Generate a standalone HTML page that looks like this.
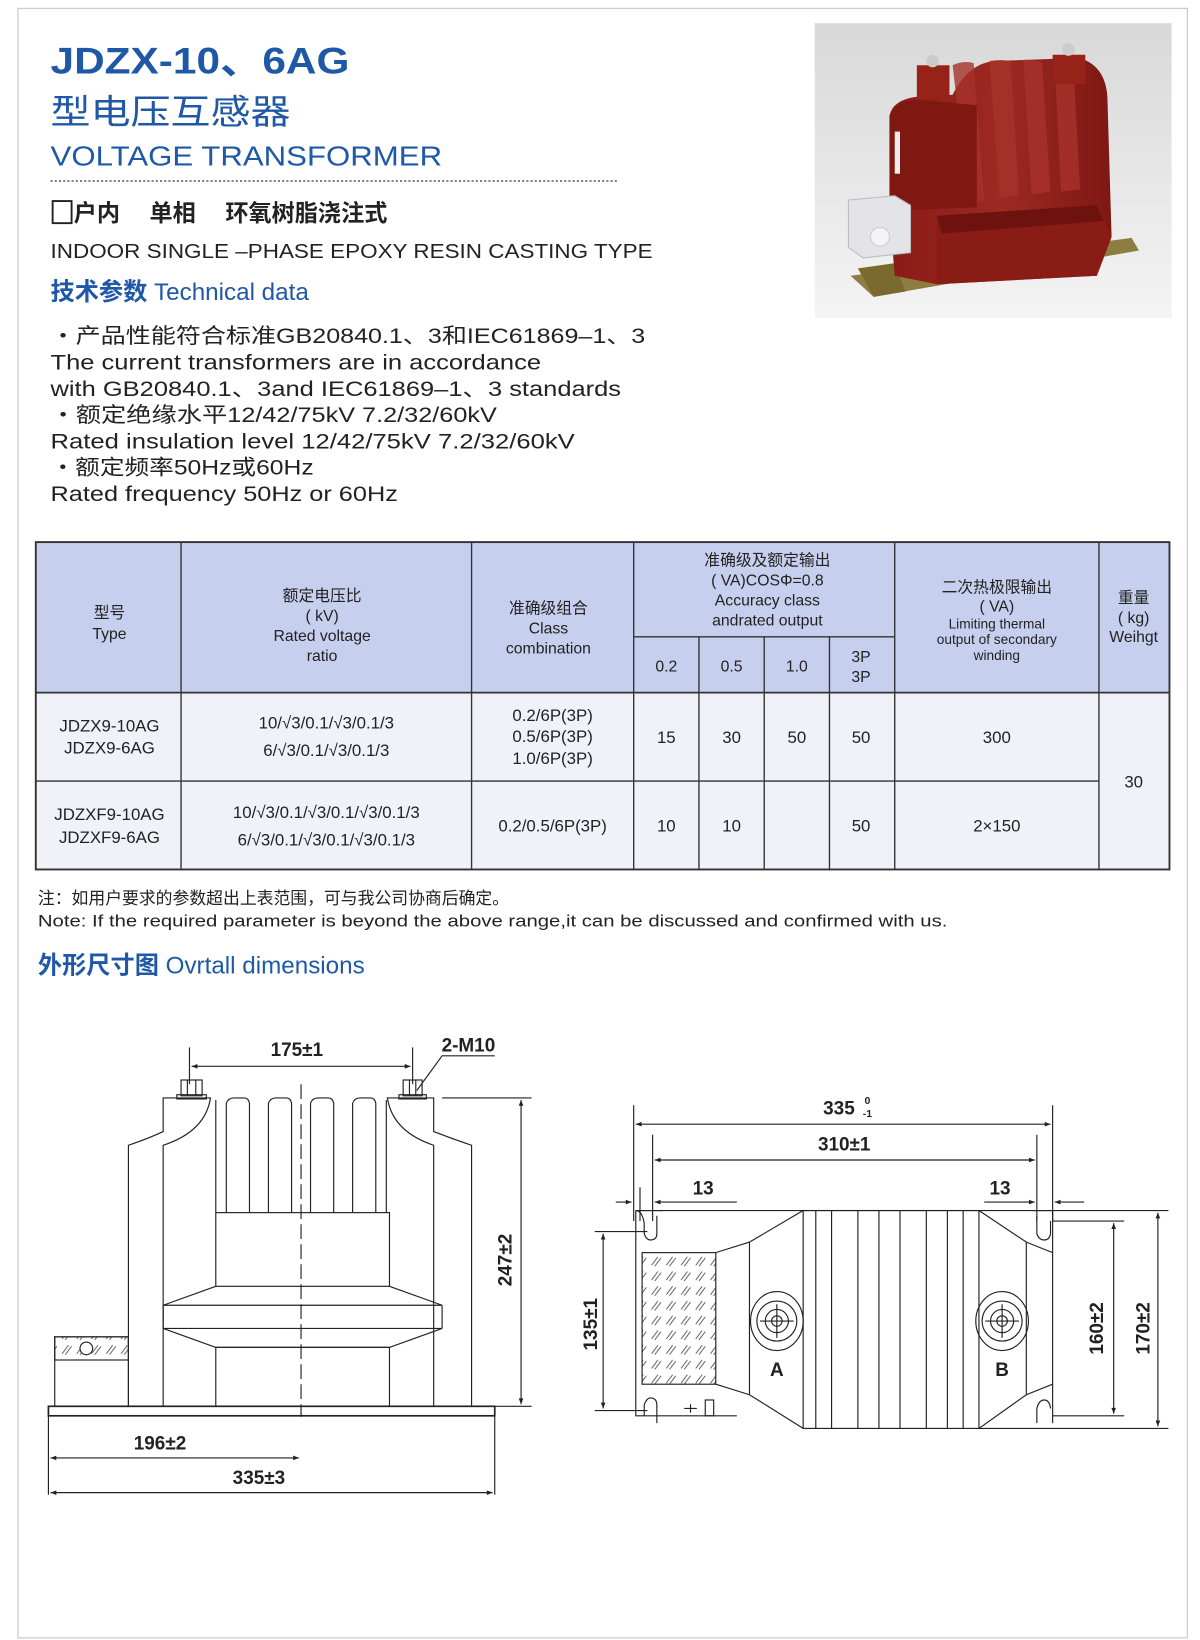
<!DOCTYPE html>
<html><head><meta charset="utf-8"><style>
html,body{margin:0;padding:0;background:#fff;width:1200px;height:1640px;overflow:hidden}
svg{display:block}
text{font-family:"Liberation Sans","Noto Sans CJK SC",sans-serif}
.b{fill:#1f58a6}
.k{fill:#222}
.ln{stroke:#222;stroke-width:1.1;fill:none}
.th{stroke:#222;stroke-width:1.6;fill:none}
</style></head><body>
<svg width="1200" height="1640" viewBox="0 0 1140 1558" xmlns="http://www.w3.org/2000/svg">
<defs>
<marker id="a" viewBox="0 0 10 10" refX="10" refY="5" markerWidth="7" markerHeight="5" orient="auto-start-reverse"><path d="M0,1 L10,5 L0,9 z" fill="#222"/></marker>
<linearGradient id="bg" x1="0" y1="0" x2="0" y2="1"><stop offset="0" stop-color="#d8d8d8"/><stop offset="1" stop-color="#f4f4f4"/></linearGradient>
<linearGradient id="red" x1="0" y1="0" x2="1" y2="0"><stop offset="0" stop-color="#8a1a16"/><stop offset="0.5" stop-color="#9c2a22"/><stop offset="1" stop-color="#7e1713"/></linearGradient>
<pattern id="hat" width="14" height="14" patternUnits="userSpaceOnUse"><path d="M3,12 L9,4 M6,13 L12,5" stroke="#444" stroke-width="0.8"/></pattern>
</defs>
<rect x="17" y="8" width="1111" height="1548" fill="none" stroke="#ccc" stroke-width="1.2"/>

<!-- Header -->
<text x="48" y="70" class="b" font-size="35" font-weight="bold" textLength="284" lengthAdjust="spacingAndGlyphs">JDZX-10、6AG</text>
<text x="48" y="118" class="b" font-size="33" textLength="228" lengthAdjust="spacingAndGlyphs">型电压互感器</text>
<text x="48" y="157" class="b" font-size="26" textLength="372" lengthAdjust="spacingAndGlyphs">VOLTAGE  TRANSFORMER</text>
<line x1="48" y1="172" x2="586" y2="172" stroke="#333" stroke-width="1.2" stroke-dasharray="2,2"/>
<rect x="50" y="191" width="18" height="21" fill="none" stroke="#222" stroke-width="1.8"/>
<text x="70" y="210" class="k" font-size="22" font-weight="bold">户内　 单相 　环氧树脂浇注式</text>
<text x="48" y="245" class="k" font-size="19" textLength="572" lengthAdjust="spacingAndGlyphs">INDOOR SINGLE –PHASE EPOXY RESIN CASTING TYPE</text>
<text x="48" y="285" class="b" font-size="23"><tspan font-weight="bold">技术参数</tspan> Technical data</text>
<g class="k" font-size="20">
<text x="48" y="326" textLength="565" lengthAdjust="spacingAndGlyphs">・产品性能符合标准GB20840.1、3和IEC61869–1、3</text>
<text x="48" y="351" textLength="466" lengthAdjust="spacingAndGlyphs">The current transformers are in accordance</text>
<text x="48" y="376" textLength="542" lengthAdjust="spacingAndGlyphs">with GB20840.1、3and IEC61869–1、3 standards</text>
<text x="48" y="401" textLength="424" lengthAdjust="spacingAndGlyphs">・额定绝缘水平12/42/75kV 7.2/32/60kV</text>
<text x="48" y="426" textLength="498" lengthAdjust="spacingAndGlyphs">Rated insulation level 12/42/75kV 7.2/32/60kV</text>
<text x="48" y="451" textLength="250" lengthAdjust="spacingAndGlyphs">・额定频率50Hz或60Hz</text>
<text x="48" y="476" textLength="330" lengthAdjust="spacingAndGlyphs">Rated frequency 50Hz or 60Hz</text>
</g>

<!-- Photo -->
<rect x="774" y="22" width="339" height="280" fill="url(#bg)"/>
<path d="M808,262 L830,282 L1082,238 L1075,226 z" fill="#8e7d40"/>
<path d="M815,255 L830,282 L860,277 L850,250 z" fill="#7a6a30"/>
<path d="M845,110 Q848,95 870,92 L905,90 Q920,60 945,58 L1025,55 Q1050,62 1052,92 L1056,225 L1042,262 L890,270 L850,262 L845,200 z" fill="url(#red)"/>
<path d="M905,62 Q915,57 925,60 L935,190 L920,194 z M940,58 Q950,56 960,58 L968,185 L950,188 z M972,57 Q982,56 990,60 L998,182 L980,185 z M1002,60 Q1012,60 1020,66 L1026,180 L1008,182 z" fill="#a8322a" opacity="0.8"/>
<path d="M928,100 L928,197 L845,200 L845,110 Q850,95 875,95 z" fill="#801812"/>
<path d="M890,205 L1042,195 L1056,225 L1042,262 L890,270 z" fill="#8a1c16"/>
<path d="M890,205 L1042,195 L1048,210 L895,222 z" fill="#6d120e"/>
<rect x="871" y="62" width="31" height="32" fill="#962218"/>
<rect x="1000" y="52" width="31" height="28" fill="#962218"/>
<circle cx="886" cy="58" r="6" fill="#ccc"/><circle cx="1015" cy="47" r="6" fill="#ccc"/>
<path d="M806,190 L850,186 L865,195 L865,240 L820,245 L806,235 z" fill="#e4e4e8" stroke="#bbb"/>
<circle cx="836" cy="225" r="9" fill="#f4f4f4" stroke="#ccc"/>
<rect x="850" y="125" width="5" height="40" fill="#eee"/>

<!-- Table -->
<rect x="34" y="515" width="1077" height="143" fill="#c7cfee"/>
<rect x="34" y="658" width="1077" height="168" fill="#f1f2f9"/>
<g stroke="#333" stroke-width="1.3" fill="none">
<rect x="34" y="515" width="1077" height="311" stroke-width="1.8"/>
<line x1="34" y1="658" x2="1111" y2="658" stroke-width="1.6"/>
<line x1="34" y1="742" x2="1044" y2="742"/>
<line x1="602" y1="605" x2="850" y2="605"/>
<line x1="172" y1="515" x2="172" y2="826"/>
<line x1="448" y1="515" x2="448" y2="826"/>
<line x1="602" y1="515" x2="602" y2="826"/>
<line x1="664" y1="605" x2="664" y2="826"/>
<line x1="726" y1="605" x2="726" y2="826"/>
<line x1="788" y1="605" x2="788" y2="826"/>
<line x1="850" y1="515" x2="850" y2="826"/>
<line x1="1044" y1="515" x2="1044" y2="826"/>
</g>
<g class="k" font-size="15" text-anchor="middle">
<text x="104" y="587">型号</text><text x="104" y="607">Type</text>
<text x="306" y="571">额定电压比</text><text x="306" y="590">( kV)</text><text x="306" y="609">Rated voltage</text><text x="306" y="628">ratio</text>
<text x="521" y="583">准确级组合</text><text x="521" y="602">Class</text><text x="521" y="621">combination</text>
<text x="729" y="537">准确级及额定输出</text><text x="729" y="556">( VA)COSΦ=0.8</text><text x="729" y="575">Accuracy class</text><text x="729" y="594">andrated output</text>
<text x="633" y="638">0.2</text><text x="695" y="638">0.5</text><text x="757" y="638">1.0</text><text x="818" y="629">3P</text><text x="818" y="648">3P</text>
<text x="947" y="563">二次热极限输出</text><text x="947" y="581">( VA)</text>
<text x="947" y="597" font-size="13">Limiting thermal</text><text x="947" y="612" font-size="13">output of secondary</text><text x="947" y="627" font-size="13">winding</text>
<text x="1077" y="573">重量</text><text x="1077" y="592">( kg)</text><text x="1077" y="610">Weihgt</text>
<g font-size="16">
<text x="104" y="695">JDZX9-10AG</text><text x="104" y="716">JDZX9-6AG</text>
<text x="310" y="692">10/√3/0.1/√3/0.1/3</text><text x="310" y="718">6/√3/0.1/√3/0.1/3</text>
<text x="525" y="685">0.2/6P(3P)</text><text x="525" y="705">0.5/6P(3P)</text><text x="525" y="726">1.0/6P(3P)</text>
<text x="633" y="706">15</text><text x="695" y="706">30</text><text x="757" y="706">50</text><text x="818" y="706">50</text><text x="947" y="706">300</text>
<text x="1077" y="748">30</text>
<text x="104" y="779">JDZXF9-10AG</text><text x="104" y="801">JDZXF9-6AG</text>
<text x="310" y="777">10/√3/0.1/√3/0.1/√3/0.1/3</text><text x="310" y="803">6/√3/0.1/√3/0.1/√3/0.1/3</text>
<text x="525" y="790">0.2/0.5/6P(3P)</text>
<text x="633" y="790">10</text><text x="695" y="790">10</text><text x="818" y="790">50</text><text x="947" y="790">2×150</text>
</g></g>

<text x="36" y="859" class="k" font-size="16">注：如用户要求的参数超出上表范围，可与我公司协商后确定。</text>
<text x="36" y="880" class="k" font-size="16" textLength="864" lengthAdjust="spacingAndGlyphs">Note: If the required parameter is beyond the above range,it can be discussed and confirmed with us.</text>
<text x="36" y="925" class="b" font-size="23"><tspan font-weight="bold">外形尺寸图</tspan> Ovrtall dimensions</text>

<!-- Left drawing -->
<g class="ln">
<rect x="46" y="1336" width="424" height="9" class="th"/>
<path d="M122,1336 V1088 Q140,1082 155,1075 V1043 H200 Q195,1075 155,1088 V1336"/>
<path d="M448,1336 V1088 Q430,1082 412,1075 V1043 H368 Q373,1075 412,1088 V1336"/>
<path d="M215,1152 V1048 Q217,1043 222,1043 H232 Q236,1043 237,1048 V1152 M255,1152 V1048 Q257,1043 262,1043 H272 Q276,1043 277,1048 V1152 M295,1152 V1048 Q297,1043 302,1043 H312 Q316,1043 317,1048 V1152 M335,1152 V1048 Q337,1043 342,1043 H352 Q356,1043 357,1048 V1152"/>
<line x1="205" y1="1045" x2="205" y2="1152"/><line x1="367" y1="1045" x2="367" y2="1152"/>
<rect x="205" y="1152" width="165" height="70"/>
<path d="M205,1222 L155,1240 H420 L370,1222 M155,1240 V1262 M420,1240 V1262 M155,1262 H420 M155,1262 L205,1280 H370 L420,1262"/>
<rect x="205" y="1280" width="165" height="56"/>
<rect x="52" y="1270" width="70" height="66"/>
<rect x="52" y="1270" width="70" height="22" fill="url(#hat)"/>
<circle cx="82" cy="1281" r="6" fill="#fff"/>
<line x1="286" y1="1030" x2="286" y2="1346" stroke-dasharray="14,5"/>
<rect x="172" y="1026" width="20" height="15"/><rect x="168" y="1040" width="28" height="4"/>
<rect x="383" y="1026" width="18" height="15"/><rect x="379" y="1040" width="26" height="4"/>
<line x1="178" y1="1026" x2="178" y2="1041"/><line x1="186" y1="1026" x2="186" y2="1041"/>
<line x1="389" y1="1026" x2="389" y2="1041"/><line x1="395" y1="1026" x2="395" y2="1041"/>
<line x1="180" y1="995" x2="180" y2="1030"/><line x1="392" y1="995" x2="392" y2="1030"/>
<line x1="182" y1="1013" x2="390" y2="1013" marker-start="url(#a)" marker-end="url(#a)"/>
<path d="M396,1036 L420,1003 H470"/>
<line x1="420" y1="1043" x2="505" y2="1043"/><line x1="470" y1="1336" x2="505" y2="1336"/>
<line x1="495" y1="1045" x2="495" y2="1334" marker-start="url(#a)" marker-end="url(#a)"/>
<line x1="46" y1="1345" x2="46" y2="1420"/><line x1="470" y1="1345" x2="470" y2="1420"/>
<line x1="48" y1="1385" x2="284" y2="1385" marker-start="url(#a)" marker-end="url(#a)"/>
<line x1="48" y1="1418" x2="468" y2="1418" marker-start="url(#a)" marker-end="url(#a)"/>
</g>
<g class="k" font-size="18" font-weight="bold" text-anchor="middle">
<text x="282" y="1003">175±1</text><text x="445" y="999">2-M10</text>
<text x="152" y="1377">196±2</text><text x="246" y="1410">335±3</text>
<text transform="translate(486,1197) rotate(-90)">247±2</text>
</g>

<!-- Right drawing -->
<g class="ln">
<line x1="602" y1="1050" x2="602" y2="1160"/><line x1="1000" y1="1050" x2="1000" y2="1160"/>
<line x1="604" y1="1068" x2="998" y2="1068" marker-start="url(#a)" marker-end="url(#a)"/>
<line x1="620" y1="1078" x2="620" y2="1160"/><line x1="985" y1="1078" x2="985" y2="1160"/>
<line x1="622" y1="1102" x2="983" y2="1102" marker-start="url(#a)" marker-end="url(#a)"/>
<line x1="585" y1="1142" x2="600" y2="1142" marker-end="url(#a)"/><line x1="700" y1="1142" x2="622" y2="1142" marker-end="url(#a)"/>
<line x1="608" y1="1128" x2="608" y2="1160"/>
<line x1="935" y1="1142" x2="983" y2="1142" marker-end="url(#a)"/><line x1="1030" y1="1142" x2="1002" y2="1142" marker-end="url(#a)"/>
<path d="M604,1150 H630 M604,1150 V1345 H650 M604,1150 Q610,1150 612,1162 V1172 Q614,1178 618,1178 Q624,1178 624,1172 V1155"/>
<path d="M612,1345 V1335 Q614,1328 618,1328 Q624,1328 624,1335 V1352"/>
<path d="M1000,1150 V1352 M980,1150 H1000 M985,1155 V1172 Q987,1178 992,1178 Q997,1178 998,1172 V1160 M985,1352 V1338 Q987,1330 992,1330 Q997,1330 998,1338"/>
<line x1="604" y1="1150" x2="1110" y2="1150"/>
<line x1="930" y1="1357" x2="1110" y2="1357"/>
<line x1="650" y1="1345" x2="700" y2="1345"/>
<rect x="610" y="1190" width="70" height="125" fill="url(#hat)"/>
<path d="M680,1190 L712,1180 L763,1150 M680,1315 L712,1325 L763,1357 M712,1180 V1325"/>
<path d="M930,1150 L975,1180 L1000,1190 M930,1357 L975,1325 L1000,1315 M975,1180 V1325"/>
<rect x="763" y="1150" width="167" height="207"/>
<path d="M775,1150 V1357 M790,1150 V1357 M815,1150 V1357 M835,1150 V1357 M855,1150 V1357 M880,1150 V1357 M900,1150 V1357 M915,1150 V1357"/>
<ellipse cx="738" cy="1255" rx="25" ry="28"/><circle cx="738" cy="1255" r="19"/><circle cx="738" cy="1255" r="11"/><circle cx="738" cy="1255" r="5"/>
<path d="M722,1255 H754 M738,1239 V1271"/>
<ellipse cx="952" cy="1255" rx="25" ry="28"/><circle cx="952" cy="1255" r="19"/><circle cx="952" cy="1255" r="11"/><circle cx="952" cy="1255" r="5"/>
<path d="M936,1255 H968 M952,1239 V1271"/>
<rect x="670" y="1330" width="8" height="15"/><path d="M650,1338 H662 M656,1334 V1342"/>
<line x1="565" y1="1170" x2="615" y2="1170"/><line x1="565" y1="1340" x2="615" y2="1340"/>
<line x1="573" y1="1172" x2="573" y2="1338" marker-start="url(#a)" marker-end="url(#a)"/>
<line x1="1000" y1="1160" x2="1068" y2="1160"/><line x1="1000" y1="1345" x2="1068" y2="1345"/>
<line x1="1058" y1="1162" x2="1058" y2="1343" marker-start="url(#a)" marker-end="url(#a)"/>
<line x1="1100" y1="1152" x2="1100" y2="1355" marker-start="url(#a)" marker-end="url(#a)"/>
</g>
<g class="k" font-size="18" font-weight="bold" text-anchor="middle">
<text x="797" y="1059">335</text><text x="824" y="1049" font-size="10">0</text><text x="824" y="1061" font-size="10">-1</text>
<text x="802" y="1093">310±1</text>
<text x="668" y="1135">13</text><text x="950" y="1135">13</text>
<text x="738" y="1307">A</text><text x="952" y="1307">B</text>
<text transform="translate(567,1258) rotate(-90)">135±1</text>
<text transform="translate(1048,1262) rotate(-90)">160±2</text>
<text transform="translate(1092,1262) rotate(-90)">170±2</text>
</g>
</svg>
</body></html>
